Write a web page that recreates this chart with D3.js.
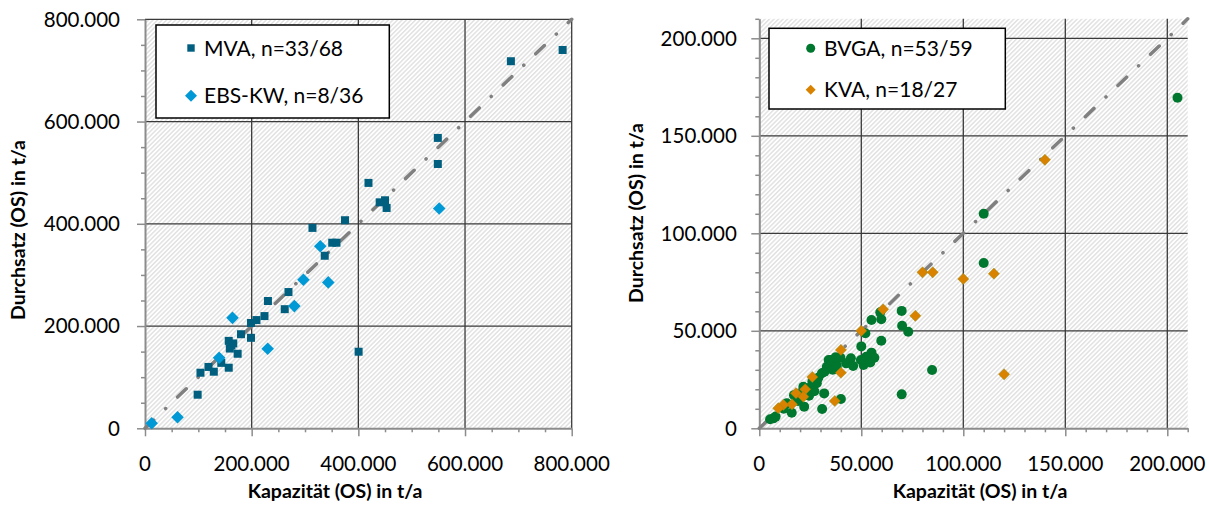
<!DOCTYPE html>
<html><head><meta charset="utf-8">
<script src="https://cdn.jsdelivr.net/npm/d3@7"></script>
<style>body{margin:0;background:#fff}svg{display:block;font-family:Lato,"Open Sans",sans-serif}</style>
</head><body>
<svg id="c" width="1209" height="506"></svg>
<script>
// ---- data (t/a) ----
const mvaCap = [98700,104000,119000,129000,143000,157000,157000,165500,159000,173700,180000,198700,198700,209000,224000,230500,262000,269000,337000,351000,359000,314000,375000,400500,419000,440000,450000,453000,549000,549000,686000,783000,162000];
const mvaThr = [65700,108700,120000,110700,128000,118500,171000,166000,156000,145800,184000,206000,177000,211700,219500,249000,233000,266500,337500,363000,363000,392000,407000,149800,480000,442000,446000,431000,568000,517000,718000,740000,162000];
const ebsCap = [12500,61000,139000,164000,230000,280000,297000,328600,343600,551600];
const ebsThr = [9800,21500,138000,216000,155600,239000,290500,356000,285400,430000];
const bvgaCap = [205000,110000,110000,84700,69800,69800,70000,73000,59800,59300,55000,59800,52000,50000,55000,56400,52400,51100,54400,49800,44900,42600,39800,35200,34800,33100,30700,28200,31800,30800,40000,24400,21600,20800,22000,15900,13500,6900,5300,17000,36000,38000,26000,29000,32000,37500,46000,19000,12000,25000,27000,8000,34000];
const bvgaThr = [169500,110000,84800,29900,17400,60200,52600,49500,55900,59500,55500,44900,48700,42000,38800,36200,36700,32500,33800,35000,35900,33300,36200,35000,33300,31600,28200,23100,17900,9900,15000,16700,21300,17900,11100,8000,12800,5100,4600,17000,30000,32000,24000,26000,29000,36500,32000,14000,10000,21000,19000,6000,35000];
const kvaCap = [140000,115000,100000,120000,80000,85000,60700,76500,50000,40000,40000,26000,37000,22500,18000,21600,16000,11800,9300];
const kvaThr = [137700,79300,76600,27700,80000,80000,61000,57700,50000,40200,28500,26300,14000,20000,18000,16200,12300,12000,10300];
const leftTicks = [0,200000,400000,600000,800000];
const rightTicks = [0,50000,100000,150000,200000];
const legendLeft = ["MVA, n=33/68","EBS-KW, n=8/36"];
const legendRight = ["BVGA, n=53/59","KVA, n=18/27"];
const xTitle = "Kapazität (OS) in t/a";
const yTitle = "Durchsatz (OS) in t/a";

const loc = d3.formatLocale({decimal:",",thousands:".",grouping:[3],currency:["",""]});
const fmt = loc.format(",d");
const svg = d3.select("#c");
const defs = svg.append("defs");
const pat = defs.append("pattern").attr("id","hatch").attr("patternUnits","userSpaceOnUse")
  .attr("width",3.2).attr("height",3.2).attr("patternTransform","rotate(45)");
pat.append("rect").attr("width",3.2).attr("height",3.2).attr("fill","#fff");
pat.append("rect").attr("width",1.5).attr("height",3.2).attr("fill","#e2e2e2");

const C = {
  dark:"#005f7f", light:"#0099d6", green:"#00772e", orange:"#d98200"
};

function panel(o){
  const x = d3.scaleLinear().domain([0,o.max]).range([o.x0,o.x1]);
  const y = d3.scaleLinear().domain([0,o.max]).range([o.y0,o.y1]);
  const g = svg.append("g");
  g.append("rect").attr("x",o.x0).attr("y",o.y1).attr("width",o.x1-o.x0).attr("height",o.y0-o.y1).attr("fill","url(#hatch)");
  // major grid
  o.ticks.filter(t=>t>0).forEach(t=>{
    g.append("line").attr("x1",x(t)).attr("x2",x(t)).attr("y1",o.y0).attr("y2",o.y1).attr("stroke","#3a3a3a").attr("stroke-width",1.3);
    g.append("line").attr("y1",y(t)).attr("y2",y(t)).attr("x1",o.x0).attr("x2",o.x1).attr("stroke","#3a3a3a").attr("stroke-width",1.3);
  });
  // axes
  const ya = d3.axisLeft(y).tickValues(d3.range(0,o.max+1,o.minor)).tickSize(0).tickFormat("");
  const axY = g.append("g").attr("transform",`translate(${o.x0},0)`).call(ya);
  axY.select(".domain").attr("stroke","#8c8c8c").attr("stroke-width",2);
  axY.selectAll(".tick line").attr("x2",t=>o.ticks.includes(t)?-8:-4).attr("stroke","#8c8c8c").attr("stroke-width",1.5);
  const xa = d3.axisBottom(x).tickValues(d3.range(0,o.max+1,o.minor)).tickSize(0).tickFormat("");
  const axX = g.append("g").attr("transform",`translate(0,${o.y0})`).call(xa);
  axX.select(".domain").attr("stroke","#8c8c8c").attr("stroke-width",2);
  axX.selectAll(".tick line").attr("y2",t=>o.ticks.includes(t)?8:4).attr("stroke","#8c8c8c").attr("stroke-width",1.5);
  // tick labels
  g.selectAll(".yl").data(o.ticks).join("text").attr("x",o.x0-o.ylOff).attr("y",d=>y(d)).attr("dy","0.36em")
    .attr("text-anchor","end").attr("font-size",20.5).text(d=>fmt(d));
  g.selectAll(".xl").data(o.ticks).join("text").attr("x",d=>x(d)).attr("y",470.5)
    .attr("text-anchor","middle").attr("font-size",20.5).text(d=>fmt(d));
  g.append("text").attr("x",o.xtc).attr("y",498).attr("text-anchor","middle").attr("font-size",19.5).attr("font-weight","bold").text(xTitle);
  g.append("text").attr("transform",`translate(${o.ytx},${o.yte}) rotate(-90)`).attr("text-anchor","end")
    .attr("font-size",19.5).attr("font-weight","bold").text(yTitle);
  // 1:1 line
  g.append("line").attr("x1",x(0)).attr("y1",y(0)).attr("x2",x(o.max)).attr("y2",y(o.max))
    .attr("stroke","#808080").attr("stroke-width",3.5).attr("stroke-linecap","round").attr("stroke-dasharray","12,16.5,0.1,16.5");
  return {g,x,y};
}

const L = panel({max:800000,x0:145,x1:571.7,y0:428.3,y1:19.3,ticks:leftTicks,minor:50000,ylOff:25,xtc:335,ytx:25,yte:140});
const R = panel({max:210000,x0:759.3,x1:1187.7,y0:428.3,y1:18.8,ticks:rightTicks,minor:10000,ylOff:22.5,xtc:980,ytx:643,yte:123});

const diamond = s=>`M0,${-s}L${s},0L0,${s}L${-s},0Z`;

// left points
L.g.selectAll(".mva").data(mvaCap).join("rect")
  .attr("x",(d,i)=>L.x(d)-4).attr("y",(d,i)=>L.y(mvaThr[i])-4).attr("width",8).attr("height",8).attr("fill",C.dark);
L.g.selectAll(".ebs").data(ebsCap).join("path")
  .attr("transform",(d,i)=>`translate(${L.x(d)},${L.y(ebsThr[i])})`).attr("d",diamond(6.3)).attr("fill",C.light);
// right points
R.g.selectAll(".bvga").data(bvgaCap).join("circle")
  .attr("cx",d=>R.x(d)).attr("cy",(d,i)=>R.y(bvgaThr[i])).attr("r",5).attr("fill",C.green);
R.g.selectAll(".kva").data(kvaCap).join("path")
  .attr("transform",(d,i)=>`translate(${R.x(d)},${R.y(kvaThr[i])})`).attr("d",diamond(5.6)).attr("fill",C.orange)
  .attr("stroke","#7f8a10").attr("stroke-width",0.4);

// legends
function legend(x0,y0,x1,y1){
  svg.append("rect").attr("x",x0).attr("y",y0).attr("width",x1-x0).attr("height",y1-y0)
    .attr("fill","#fff").attr("stroke","#000").attr("stroke-width",1.5);
}
legend(156,25,389.3,118);
svg.append("rect").attr("x",191-3.7).attr("y",48-3.7).attr("width",7.4).attr("height",7.4).attr("fill",C.dark);
svg.append("path").attr("transform","translate(191,95.7)").attr("d",diamond(6)).attr("fill",C.light);
svg.selectAll(".ll").data(legendLeft).join("text").attr("x",204).attr("y",(d,i)=>[48,95.7][i]).attr("dy","0.36em")
  .attr("font-size",21).text(d=>d);
legend(769,28.3,1005.3,109);
svg.append("circle").attr("cx",810.7).attr("cy",48.3).attr("r",4.5).attr("fill",C.green);
svg.append("path").attr("transform","translate(810.7,89.7)").attr("d",diamond(5)).attr("fill",C.orange);
svg.selectAll(".lr").data(legendRight).join("text").attr("x",824).attr("y",(d,i)=>[48.3,89.7][i]).attr("dy","0.36em")
  .attr("font-size",21).text(d=>d);
</script>
</body></html>
